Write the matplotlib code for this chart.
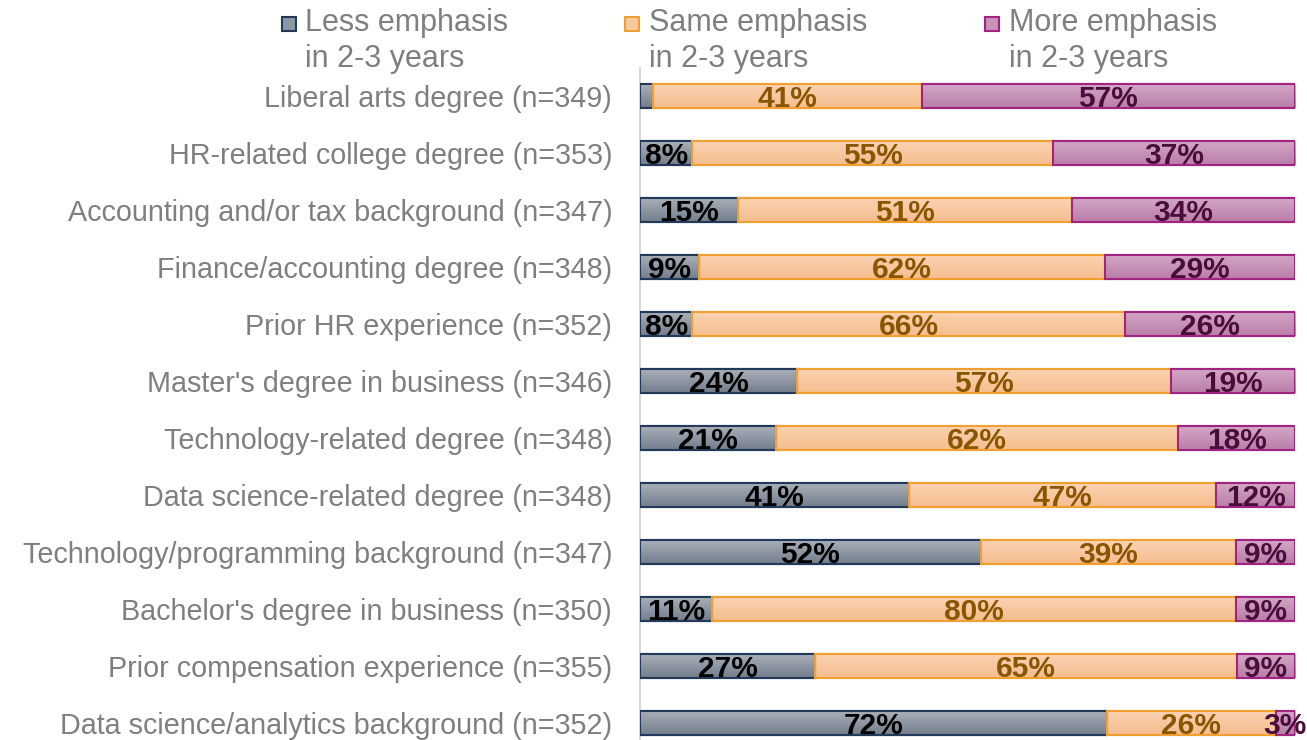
import matplotlib
matplotlib.use('Agg')
import matplotlib.pyplot as plt
from matplotlib.patches import Rectangle
from matplotlib.colors import LinearSegmentedColormap
import numpy as np

categories = [
    'Liberal arts degree (n=349)',
    'HR-related college degree (n=353)',
    'Accounting and/or tax background (n=347)',
    'Finance/accounting degree (n=348)',
    'Prior HR experience (n=352)',
    "Master's degree in business (n=346)",
    'Technology-related degree (n=348)',
    'Data science-related degree (n=348)',
    'Technology/programming background (n=347)',
    "Bachelor's degree in business (n=350)",
    'Prior compensation experience (n=355)',
    'Data science/analytics background (n=352)',
]
less = [2, 8, 15, 9, 8, 24, 21, 41, 52, 11, 27, 72]
same = [41, 55, 51, 62, 66, 57, 62, 47, 39, 80, 65, 26]
more = [57, 37, 34, 29, 26, 19, 18, 12, 9, 9, 9, 3]
series_names = ['Less emphasis\nin 2-3 years', 'Same emphasis\nin 2-3 years', 'More emphasis\nin 2-3 years']

fills = ['#8e97a4', '#f8c8a0', '#c893b8']
grad_top = ['#a9afb8', '#fad3b2', '#d3a6c5']
grad_bot = ['#737e8c', '#f5bd8e', '#b97ea8']
edges = ['#22395a', '#f0a030', '#a02480']
label_colors = ['#000000', '#8a5500', '#4a0c3a']

plt.rcParams['font.family'] = ['Liberation Sans', 'DejaVu Sans']

fig = plt.figure(figsize=(13.07, 7.4), dpi=100)
ax = fig.add_axes([640 / 1307, 0, 655 / 1307, 672 / 740])

data = np.array([less, same, more], dtype=float)
totals = data.sum(axis=0)
shares = data / totals * 100
y = np.arange(len(categories))
bar_h = 0.41

grad = np.linspace(0, 1, 64).reshape(-1, 1)
left = np.zeros(len(categories))
for k in range(3):
    cmap = LinearSegmentedColormap.from_list('g%d' % k, [grad_top[k], grad_bot[k]])
    bars = ax.barh(y, shares[k], left=left, height=bar_h, color=fills[k],
                   edgecolor=edges[k], linewidth=1.5, zorder=2)
    for i, b in enumerate(bars):
        # vertical gradient inside each bar
        im = ax.imshow(grad, extent=[left[i], left[i] + shares[k, i], y[i] + bar_h / 2, y[i] - bar_h / 2],
                       aspect='auto', cmap=cmap, zorder=2.1, origin='upper')
        im.set_clip_path(b)
        edge = Rectangle(b.get_xy(), b.get_width(), b.get_height(), fill=False,
                         edgecolor=edges[k], linewidth=1.5, zorder=2.2)
        ax.add_patch(edge)
        if data[k, i] >= 3:
            ax.text(left[i] + shares[k, i] / 2, y[i] + 0.05, f'{int(data[k, i])}%',
                    ha='center', va='center', fontsize=21.5, fontweight='bold',
                    color=label_colors[k], zorder=3)
    left += shares[k]

ax.set_xlim(0, 100)
ax.set_ylim(11.298, -0.491)
ax.set_yticks(y)
ax.set_yticklabels(categories, fontsize=20.7, color='#7f7f7f')
ax.tick_params(axis='y', length=0, pad=20)
ax.set_xticks([])
for s in ['top', 'right', 'bottom']:
    ax.spines[s].set_visible(False)
ax.spines['left'].set_color('#d9d9d9')
ax.spines['left'].set_linewidth(1.5)
ax.spines['left'].set_zorder(1)

# legend
leg_sq = [282, 625, 985]
leg_tx = [305, 649, 1009]
for k in range(3):
    fig.add_artist(Rectangle((leg_sq[k] / 1307, 1 - 31 / 740), 14 / 1307, 14 / 740,
                             transform=fig.transFigure, facecolor=fills[k],
                             edgecolor=edges[k], linewidth=1.5))
    fig.text(leg_tx[k] / 1307, 1 - 8 / 740, series_names[k], ha='left', va='top',
             fontsize=22, color='#7f7f7f', linespacing=1.25)

fig.savefig('out.png', dpi=100)
